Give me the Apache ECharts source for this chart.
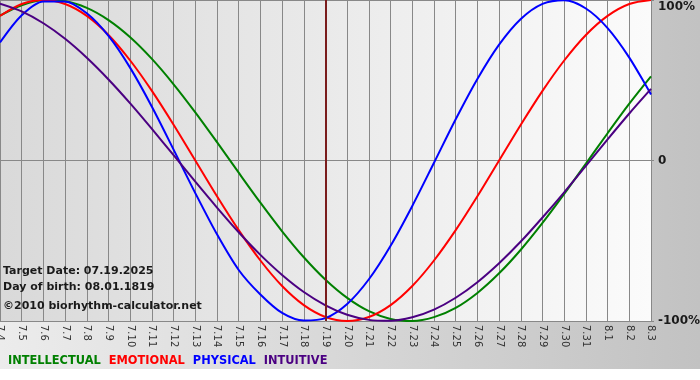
<!DOCTYPE html>
<html><head><meta charset="utf-8">
<script src="https://cdn.jsdelivr.net/npm/echarts@6/dist/echarts.min.js"></script>
<style>html,body{margin:0;padding:0;background:#fff}#c{width:700px;height:380px}</style>
</head><body><div id="c"></div>
<script>
var categories = ['7.4','7.5','7.6','7.7','7.8','7.9','7.10','7.11','7.12','7.13','7.14','7.15','7.16','7.17','7.18','7.19','7.20','7.21','7.22','7.23','7.24','7.25','7.26','7.27','7.28','7.29','7.30','7.31','8.1','8.2','8.3'];
var intellectual = [90.2,96.7,99.8,99.2,95.1,87.5,76.8,63.3,47.5,30.0,11.4,-7.6,-26.3,-44.1,-60.3,-74.3,-85.6,-93.9,-98.7,-100,-97.6,-91.8,-82.5,-70.3,-55.6,-38.9,-20.8,-1.9,17.0,35.4,52.4];
var emotional = [90.1,97.5,100,97.5,90.1,78.2,62.3,43.4,22.3,0,-22.3,-43.4,-62.3,-78.2,-90.1,-97.5,-100,-97.5,-90.1,-78.2,-62.3,-43.4,-22.3,0,22.3,43.4,62.3,78.2,90.1,97.5,100];
var physical = [73.5,90.5,99.1,99.1,91.7,77.6,57.7,33.5,6.8,-20.3,-46.0,-68.2,-83.5,-95.0,-99.7,-98.2,-89.4,-74.0,-53.1,-28.3,-1.4,25.7,50.8,72.2,88.2,97.6,99.9,94.7,82.5,64.1,41.1];
var intuitive = [97.7,92.9,85.5,75.8,64.0,50.5,35.6,19.7,3.3,-13.2,-29.3,-44.7,-58.8,-71.3,-81.9,-90.2,-96.1,-99.3,-99.9,-97.7,-92.9,-85.5,-75.8,-64.0,-50.5,-35.5,-19.8,-3.3,13.2,29.3,44.6];
var yTicks = {'100':'100%','0':'0','-100':'-100%'};
var targetDay = '7.19';
var infoLines = ['Target Date: 07.19.2025','Day of birth: 08.01.1819','©2010 biorhythm-calculator.net'];
var seriesNames = ['INTELLECTUAL','EMOTIONAL','PHYSICAL','INTUITIVE'];
var seriesColors = ['#008000','#ff0000','#0000ff','#4b0082'];

var chart = echarts.init(document.getElementById('c'), null, {renderer:'canvas'});
var dataSets = [intellectual, emotional, physical, intuitive];
var FONT = 'DejaVu Sans';
var series = seriesNames.map(function(n,k){
  return {name:n, type:'line', data:dataSets[k], smooth:0.3, showSymbol:false, symbol:'none',
    lineStyle:{color:seriesColors[k], width:2}, itemStyle:{color:seriesColors[k]}, z:3, animation:false};
});
series[0].markLine = {silent:true, symbol:['none','none'], label:{show:false},
  lineStyle:{color:'#7a1c1c', width:2, type:'solid'}, data:[{xAxis:targetDay}], animation:false};

chart.setOption({
  animation:false,
  backgroundColor:'transparent',
  grid:{left:0, right:49, top:0, bottom:59, show:true, borderWidth:0, containLabel:false, outerBoundsMode:'none',
    backgroundColor:{type:'linear',x:0,y:0,x2:1,y2:0,colorStops:[{offset:0,color:'#d9d9d9'},{offset:1,color:'#fbfbfb'}]}},
  graphic:[
    {type:'rect', z:-10, silent:true, shape:{x:0,y:0,width:700,height:369},
      style:{fill:{type:'linear',x:0,y:0,x2:1,y2:0,colorStops:[{offset:0,color:'#ececec'},{offset:1,color:'#c2c2c2'}]}}},
    {type:'text', left:3, top:266, z:10, style:{text:infoLines[0], font:'bold 11px "DejaVu Sans"', fill:'#1a1a1a'}},
    {type:'text', left:3, top:282, z:10, style:{text:infoLines[1], font:'bold 11px "DejaVu Sans"', fill:'#1a1a1a'}},
    {type:'text', left:3, top:301, z:10, style:{text:infoLines[2], font:'bold 11px "DejaVu Sans"', fill:'#1a1a1a'}}
  ],
  legend:{left:3, top:356, icon:'none', itemWidth:0, itemHeight:10, itemGap:3, padding:0,
    textStyle:{fontFamily:FONT, fontSize:11.4, fontWeight:'bold', padding:0},
    data:seriesNames.map(function(n,k){return {name:n, textStyle:{color:seriesColors[k]}};})},
  xAxis:{type:'category', data:categories, boundaryGap:false,
    axisLine:{show:true, lineStyle:{color:'#888', width:1}},
    axisTick:{show:true, length:4, lineStyle:{color:'#888'}, alignWithLabel:true},
    axisLabel:{rotate:-90, interval:0, margin:4, color:'#333', fontFamily:FONT, fontSize:10},
    splitLine:{show:true, lineStyle:{color:'#888', width:1}}},
  yAxis:{type:'value', position:'right', min:-100, max:100, interval:100,
    axisLine:{show:false}, axisTick:{show:true, length:3, lineStyle:{color:'#888'}},
    splitLine:{show:true, lineStyle:{color:'#888', width:1}},
    axisLabel:{margin:7, color:'#1a1a1a', fontFamily:FONT, fontSize:12, fontWeight:'bold',
      formatter:function(v){ return v===100 ? '{t|'+yTicks['100']+'}' : yTicks[String(v)]; },
      rich:{t:{fontFamily:FONT, fontSize:12, fontWeight:'bold', color:'#1a1a1a', padding:[14,0,0,0]}}}},
  series:series
});
</script></body></html>
